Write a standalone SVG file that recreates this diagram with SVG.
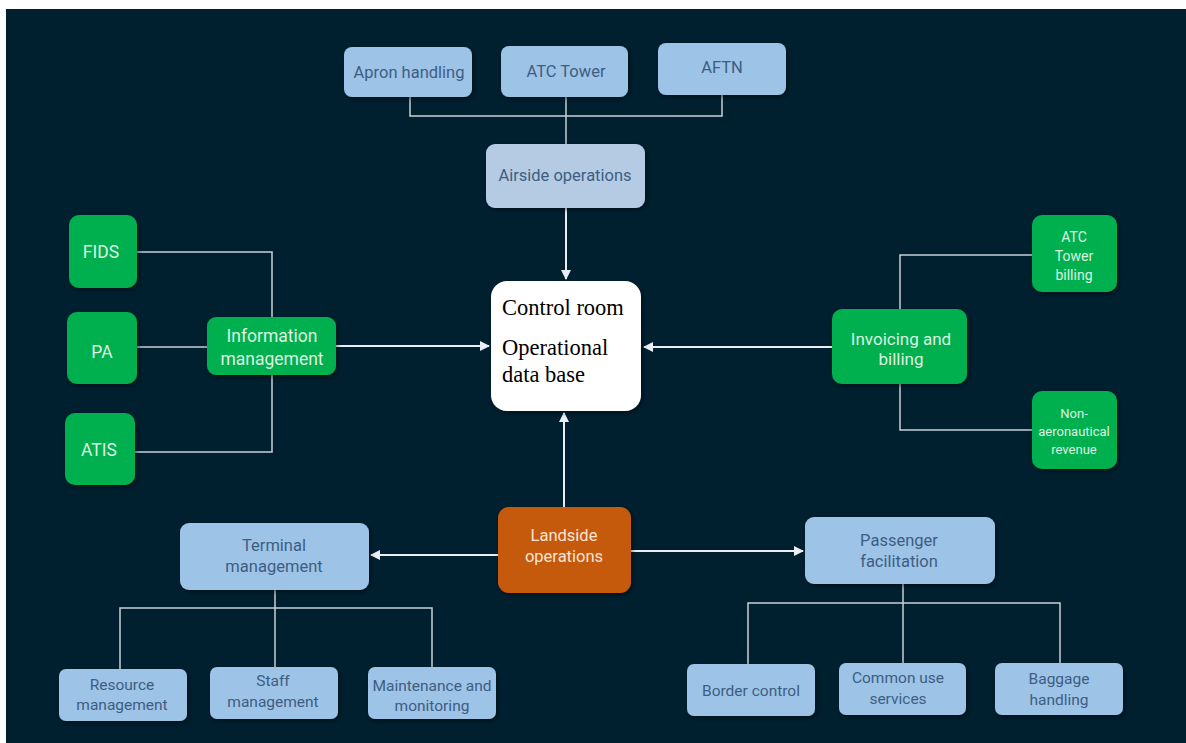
<svg xmlns="http://www.w3.org/2000/svg" width="1186" height="743" viewBox="0 0 1186 743">
<defs>
<style>
.t{font-family:Roboto,"Liberation Sans",sans-serif;font-size:16.5px;text-anchor:middle}
.blue{fill:#9DC3E6}
.blue2{fill:#B4CBE3}
.bt{fill:#3D5E82}
.green{fill:#00B050}
.gt{fill:#DDF2E0}
.orange{fill:#C55A11}
.ot{fill:#FBE5D6}
.ln{fill:none;stroke:#C9D1D8;stroke-width:1.5}
.ar{fill:none;stroke:#E8EEF3;stroke-width:2;marker-end:url(#ah)}
.cr{font-family:"Liberation Serif","Times New Roman",serif;font-size:22.5px;fill:#000}
</style>
<marker id="ah" viewBox="0 0 10 10" refX="9" refY="5" markerWidth="5" markerHeight="5" orient="auto">
<path d="M0,0 L10,5 L0,10 z" fill="#E8EEF3"/>
</marker>
<filter id="sh" x="-10%" y="-10%" width="130%" height="140%">
<feDropShadow dx="1.5" dy="2" stdDeviation="2" flood-color="#000" flood-opacity="0.45"/>
</filter>
</defs>
<rect x="0" y="0" width="1186" height="743" fill="#FFFFFF"/>
<rect x="6" y="9" width="1180" height="734" fill="#001F2F"/>

<g id="connectors">
<polyline class="ln" points="410,97 410,116 722,116 722,95"/>
<line class="ln" x1="566" y1="97" x2="566" y2="144"/>
<line class="ar" x1="566" y1="208" x2="566" y2="279"/>
<polyline class="ln" points="137,252 272,252 272,317"/>
<line class="ln" x1="137" y1="347" x2="207" y2="347"/>
<polyline class="ln" points="135,452 272,452 272,375"/>
<line class="ar" x1="336" y1="346" x2="489" y2="346"/>
<polyline class="ln" points="900,309 900,255 1032,255"/>
<polyline class="ln" points="900,384 900,430 1032,430"/>
<line class="ar" x1="832" y1="347" x2="644" y2="347"/>
<line class="ar" x1="564" y1="507" x2="564" y2="413"/>
<line class="ar" x1="498" y1="555" x2="371" y2="555"/>
<line class="ar" x1="631" y1="551" x2="803" y2="551"/>
<line class="ln" x1="275" y1="590" x2="275" y2="667"/>
<polyline class="ln" points="120,669 120,608 432,608 432,667"/>
<line class="ln" x1="903" y1="584" x2="903" y2="663"/>
<polyline class="ln" points="748,664 748,603 1060,603 1060,663"/>
</g>

<g id="apron"><rect x="344" y="47" width="128" height="50" rx="8" class="blue" filter="url(#sh)"/><text class="t bt" x="409" y="78">Apron handling</text></g>
<g id="atctower"><rect x="501" y="46" width="127" height="51" rx="8" class="blue" filter="url(#sh)"/><text class="t bt" x="566" y="77">ATC Tower</text></g>
<g id="aftn"><rect x="658" y="43" width="128" height="52" rx="8" class="blue" filter="url(#sh)"/><text class="t bt" x="722" y="73">AFTN</text></g>
<g id="airside"><rect x="486" y="144" width="159" height="64" rx="9" class="blue2" filter="url(#sh)"/><text class="t bt" x="565" y="181">Airside operations</text></g>

<g id="controlroom"><rect x="491" y="281" width="150" height="130" rx="16" fill="#FFFFFF" filter="url(#sh)"/>
<text class="cr" x="502" y="315">Control room</text>
<text class="cr" x="502" y="355">Operational</text>
<text class="cr" x="502" y="382">data base</text></g>

<g id="fids"><rect x="69" y="215" width="68" height="73" rx="10" class="green" filter="url(#sh)"/><text class="t gt" x="101" y="258" style="font-size:17.5px">FIDS</text></g>
<g id="pa"><rect x="67" y="312" width="70" height="72" rx="10" class="green" filter="url(#sh)"/><text class="t gt" x="102" y="358" style="font-size:17.5px">PA</text></g>
<g id="atis"><rect x="65" y="413" width="70" height="72" rx="10" class="green" filter="url(#sh)"/><text class="t gt" x="99" y="456" style="font-size:17.5px">ATIS</text></g>
<g id="infomgmt"><rect x="207" y="317" width="129" height="58" rx="9" class="green" filter="url(#sh)"/>
<text class="t gt" x="272" y="342" style="font-size:17.5px">Information</text>
<text class="t gt" x="272" y="365" style="font-size:17.5px">management</text></g>

<g id="invoicing"><rect x="832" y="309" width="135" height="75" rx="10" class="green" filter="url(#sh)"/>
<text class="t gt" x="901" y="345" style="font-size:17px">Invoicing and</text>
<text class="t gt" x="901" y="365" style="font-size:17px">billing</text></g>
<g id="atcbilling"><rect x="1032" y="215" width="85" height="77" rx="10" class="green" filter="url(#sh)"/>
<text class="t gt" x="1074" y="242" style="font-size:14px">ATC</text>
<text class="t gt" x="1074" y="261" style="font-size:14px">Tower</text>
<text class="t gt" x="1074" y="280" style="font-size:14px">billing</text></g>
<g id="nonaero"><rect x="1032" y="391" width="85" height="78" rx="10" class="green" filter="url(#sh)"/>
<text class="t gt" x="1074" y="418" style="font-size:13px">Non-</text>
<text class="t gt" x="1074" y="436" style="font-size:13px">aeronautical</text>
<text class="t gt" x="1074" y="454" style="font-size:13px">revenue</text></g>

<g id="landside"><rect x="498" y="507" width="133" height="86" rx="11" class="orange" filter="url(#sh)"/>
<text class="t ot" x="564" y="541">Landside</text>
<text class="t ot" x="564" y="562">operations</text></g>

<g id="terminal"><rect x="180" y="523" width="189" height="67" rx="9" class="blue" filter="url(#sh)"/>
<text class="t bt" x="274" y="551">Terminal</text>
<text class="t bt" x="274" y="572">management</text></g>
<g id="resource"><rect x="59" y="669" width="128" height="52" rx="7" class="blue" filter="url(#sh)"/>
<text class="t bt" x="122" y="690" style="font-size:15.5px">Resource</text>
<text class="t bt" x="122" y="710" style="font-size:15.5px">management</text></g>
<g id="staff"><rect x="210" y="667" width="128" height="52" rx="7" class="blue" filter="url(#sh)"/>
<text class="t bt" x="273" y="686" style="font-size:15.5px">Staff</text>
<text class="t bt" x="273" y="707" style="font-size:15.5px">management</text></g>
<g id="maintenance"><rect x="368" y="667" width="128" height="52" rx="7" class="blue" filter="url(#sh)"/>
<text class="t bt" x="432" y="691" style="font-size:15.5px">Maintenance and</text>
<text class="t bt" x="432" y="711" style="font-size:15.5px">monitoring</text></g>

<g id="passenger"><rect x="805" y="517" width="190" height="67" rx="9" class="blue" filter="url(#sh)"/>
<text class="t bt" x="899" y="546">Passenger</text>
<text class="t bt" x="899" y="567">facilitation</text></g>
<g id="border"><rect x="687" y="664" width="128" height="52" rx="7" class="blue" filter="url(#sh)"/>
<text class="t bt" x="751" y="696" style="font-size:15.5px">Border control</text></g>
<g id="commonuse"><rect x="839" y="663" width="127" height="52" rx="7" class="blue" filter="url(#sh)"/>
<text class="t bt" x="898" y="683" style="font-size:15.5px">Common use</text>
<text class="t bt" x="898" y="704" style="font-size:15.5px">services</text></g>
<g id="baggage"><rect x="995" y="663" width="128" height="52" rx="7" class="blue" filter="url(#sh)"/>
<text class="t bt" x="1059" y="684" style="font-size:15.5px">Baggage</text>
<text class="t bt" x="1059" y="705" style="font-size:15.5px">handling</text></g>
</svg>
